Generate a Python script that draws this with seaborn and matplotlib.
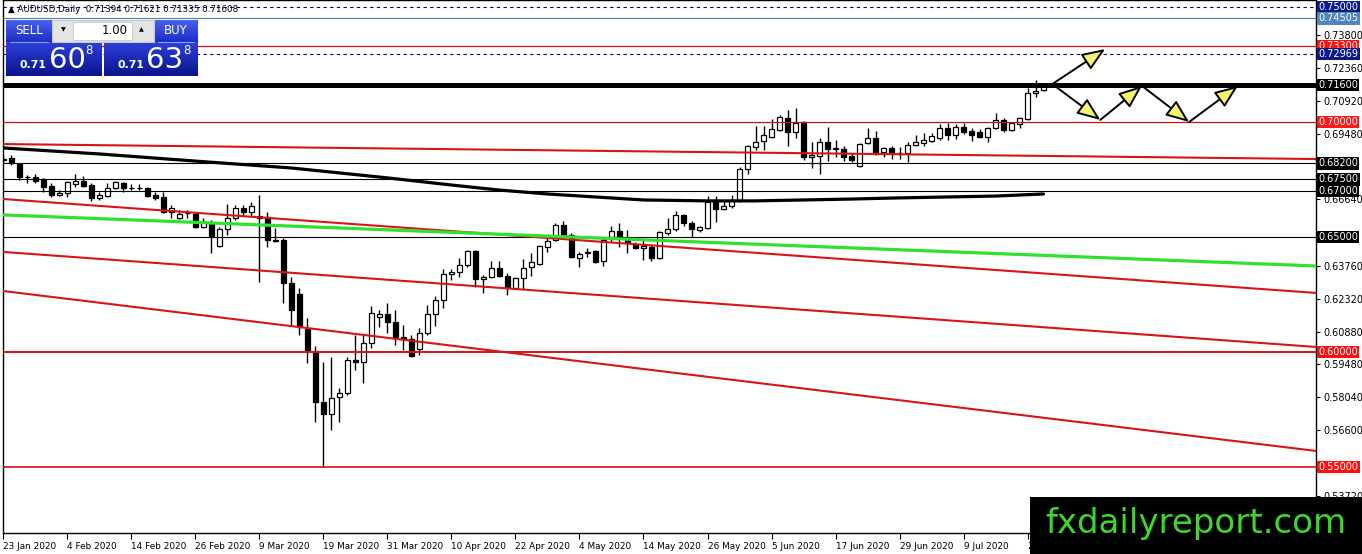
"""AUDUSD daily chart (MT4 style) redrawn with seaborn / matplotlib"""
import matplotlib
matplotlib.use("Agg")
import matplotlib.pyplot as plt
import matplotlib.patches as mpatches
from matplotlib.colors import LinearSegmentedColormap
from matplotlib.ticker import FormatStrFormatter
import seaborn as sns
import numpy as np
import pandas as pd

# daily candles, one per weekday starting 23 Jan 2020
opens = [0.6840, 0.6843, 0.6817, 0.6762, 0.6761, 0.6752, 0.6722, 0.6683, 0.6691, 0.6730,
         0.6744, 0.6726, 0.6670, 0.6678, 0.6713, 0.6735, 0.6715, 0.6714, 0.6713, 0.6683,
         0.6674, 0.6609, 0.6583, 0.6605, 0.6600, 0.6544, 0.6561, 0.6461, 0.6535, 0.6583,
         0.6626, 0.6609, 0.6592, 0.6587, 0.6489, 0.6487, 0.6300, 0.6252, 0.6100, 0.6004,
         0.5783, 0.5730, 0.5804, 0.5822, 0.5965, 0.5957, 0.6039, 0.6152, 0.6165, 0.6130,
         0.6065, 0.6057, 0.6013, 0.6083, 0.6165, 0.6226, 0.6339, 0.6348, 0.6378, 0.6439,
         0.6317, 0.6326, 0.6365, 0.6330, 0.6278, 0.6322, 0.6370, 0.6383, 0.6457, 0.6487,
         0.6552, 0.6509, 0.6409, 0.6435, 0.6439, 0.6396, 0.6500, 0.6526, 0.6487, 0.6465,
         0.6452, 0.6457, 0.6409, 0.6517, 0.6535, 0.6596, 0.6561, 0.6530, 0.6539, 0.6652,
         0.6622, 0.6635, 0.6661, 0.6796, 0.6891, 0.6917, 0.6935, 0.6965, 0.7017, 0.6957,
         0.7000, 0.6848, 0.6852, 0.6913, 0.6886, 0.6883, 0.6852, 0.6809, 0.6909, 0.6930,
         0.6870, 0.6887, 0.6867, 0.6865, 0.6900, 0.6909, 0.6917, 0.6930, 0.6974, 0.6943,
         0.6978, 0.6961, 0.6957, 0.6935, 0.6974, 0.7009, 0.6965, 0.6991, 0.7013, 0.7126,
         0.71394]
highs = [0.6850, 0.6856, 0.6822, 0.6770, 0.6774, 0.6757, 0.6735, 0.6704, 0.6743, 0.6774,
         0.6765, 0.6735, 0.6696, 0.6735, 0.6744, 0.6739, 0.6730, 0.6730, 0.6717, 0.6696,
         0.6696, 0.6639, 0.6617, 0.6617, 0.6609, 0.6583, 0.6574, 0.6544, 0.6644, 0.6639,
         0.6639, 0.6652, 0.6683, 0.6609, 0.6539, 0.6496, 0.6326, 0.6278, 0.6148, 0.6026,
         0.5957, 0.5978, 0.5843, 0.5978, 0.6074, 0.6074, 0.6200, 0.6183, 0.6213, 0.6183,
         0.6117, 0.6074, 0.6104, 0.6204, 0.6243, 0.6361, 0.6361, 0.6409, 0.6443, 0.6443,
         0.6335, 0.6396, 0.6396, 0.6343, 0.6326, 0.6404, 0.6430, 0.6465, 0.6500, 0.6561,
         0.6570, 0.6517, 0.6435, 0.6452, 0.6443, 0.6500, 0.6548, 0.6561, 0.6530, 0.6478,
         0.6487, 0.6470, 0.6526, 0.6583, 0.6613, 0.6600, 0.6570, 0.6548, 0.6678, 0.6678,
         0.6661, 0.6683, 0.6804, 0.6900, 0.6983, 0.6983, 0.7013, 0.7030, 0.7052, 0.7061,
         0.7004, 0.6913, 0.6930, 0.6978, 0.6922, 0.6896, 0.6861, 0.6909, 0.6974, 0.6961,
         0.6891, 0.6896, 0.6891, 0.6913, 0.6943, 0.6952, 0.6952, 0.6991, 0.6996, 0.6991,
         0.6996, 0.6974, 0.6970, 0.6978, 0.7039, 0.7017, 0.7000, 0.7022, 0.7148, 0.7183,
         0.71621]
lows = [0.6828, 0.6813, 0.6748, 0.6735, 0.6735, 0.6696, 0.6674, 0.6678, 0.6674, 0.6717,
        0.6717, 0.6657, 0.6661, 0.6674, 0.6709, 0.6696, 0.6704, 0.6704, 0.6674, 0.6661,
        0.6604, 0.6583, 0.6578, 0.6583, 0.6539, 0.6539, 0.6430, 0.6457, 0.6509, 0.6574,
        0.6596, 0.6587, 0.6304, 0.6457, 0.6478, 0.6213, 0.6117, 0.6074, 0.5952, 0.5696,
        0.5500, 0.5661, 0.5696, 0.5813, 0.5922, 0.5865, 0.6017, 0.6109, 0.6083, 0.6030,
        0.6009, 0.5978, 0.5987, 0.6074, 0.6113, 0.6191, 0.6313, 0.6326, 0.6370, 0.6283,
        0.6257, 0.6322, 0.6326, 0.6248, 0.6274, 0.6274, 0.6330, 0.6378, 0.6435, 0.6483,
        0.6496, 0.6409, 0.6370, 0.6413, 0.6387, 0.6374, 0.6478, 0.6457, 0.6430, 0.6448,
        0.6400, 0.6396, 0.6404, 0.6509, 0.6526, 0.6548, 0.6500, 0.6522, 0.6535, 0.6565,
        0.6617, 0.6626, 0.6652, 0.6774, 0.6878, 0.6878, 0.6930, 0.6961, 0.6896, 0.6930,
        0.6835, 0.6800, 0.6774, 0.6830, 0.6848, 0.6830, 0.6826, 0.6804, 0.6904, 0.6857,
        0.6848, 0.6839, 0.6839, 0.6826, 0.6896, 0.6896, 0.6913, 0.6922, 0.6922, 0.6926,
        0.6948, 0.6917, 0.6930, 0.6913, 0.6970, 0.6957, 0.6961, 0.6974, 0.7009, 0.7109,
        0.71335]
closes = [0.6833, 0.6822, 0.6761, 0.6760, 0.6744, 0.6717, 0.6683, 0.6691, 0.6739, 0.6744,
          0.6722, 0.6670, 0.6683, 0.6713, 0.6739, 0.6713, 0.6712, 0.6711, 0.6678, 0.6670,
          0.6609, 0.6626, 0.6600, 0.6603, 0.6544, 0.6565, 0.6504, 0.6535, 0.6583, 0.6626,
          0.6609, 0.6635, 0.6583, 0.6487, 0.6484, 0.6300, 0.6183, 0.6109, 0.6004, 0.5783,
          0.5730, 0.5800, 0.5822, 0.5965, 0.5957, 0.6039, 0.6170, 0.6165, 0.6130, 0.6065,
          0.6057, 0.5983, 0.6083, 0.6165, 0.6226, 0.6339, 0.6348, 0.6378, 0.6439, 0.6317,
          0.6326, 0.6365, 0.6330, 0.6283, 0.6322, 0.6365, 0.6391, 0.6461, 0.6483, 0.6552,
          0.6500, 0.6413, 0.6426, 0.6432, 0.6391, 0.6487, 0.6526, 0.6496, 0.6474, 0.6452,
          0.6461, 0.6409, 0.6522, 0.6535, 0.6596, 0.6561, 0.6535, 0.6543, 0.6652, 0.6622,
          0.6635, 0.6661, 0.6796, 0.6896, 0.6913, 0.6943, 0.6970, 0.7022, 0.6957, 0.6996,
          0.6848, 0.6857, 0.6913, 0.6883, 0.6884, 0.6848, 0.6835, 0.6904, 0.6930, 0.6861,
          0.6887, 0.6865, 0.6864, 0.6900, 0.6913, 0.6922, 0.6939, 0.6974, 0.6943, 0.6978,
          0.6957, 0.6943, 0.6935, 0.6974, 0.7009, 0.6965, 0.6996, 0.7017, 0.7126, 0.7135,
          0.71608]

# slow moving average (black curve), sampled at bar numbers
ma_bars = [0, 12, 24, 36, 48, 56, 62, 68, 74, 80, 88, 94, 100, 106, 112, 118, 124, 130]
ma_values = [0.6887, 0.6861, 0.6830, 0.6800, 0.6757, 0.6726, 0.6704, 0.6687, 0.6674, 0.6661,
             0.6657, 0.6657, 0.6661, 0.6665, 0.6670, 0.6674, 0.6678, 0.6687]

# trend lines: (bar, price) at both ends
red_trends = [((0, 0.6904), (164, 0.6839)),
              ((0, 0.6665), (164, 0.6257)),
              ((0, 0.6435), (164, 0.6022)),
              ((0, 0.6265), (164, 0.5570))]
green_trend = ((0, 0.6596), (164, 0.6374))

# horizontal levels: price, colour, width, style, label box colour
levels = [(0.75000, "#000080", 0.8, (0, (3, 3)), "#0a1a8c"),
          (0.74505, "#4682b4", 0.8, "-", "#4f86c0"),
          (0.73300, "#d01010", 0.9, "-", "#ff1010"),
          (0.72969, "#000080", 0.8, (0, (3, 3)), "#0a1a8c"),
          (0.71600, "black", 3.6, "-", "black"),
          (0.70000, "#d01010", 0.9, "-", "#ff1818"),
          (0.68200, "black", 0.8, "-", "black"),
          (0.67500, "black", 0.8, "-", "black"),
          (0.67000, "black", 0.8, "-", "black"),
          (0.65000, "black", 0.8, "-", "black"),
          (0.60000, "#e01010", 1.4, "-", "#ff1010"),
          (0.55000, "#d01010", 1.2, "-", "#ff1010")]

price_ticks = [0.73800, 0.72360, 0.70920, 0.69480, 0.66640, 0.63760,
               0.62320, 0.60880, 0.59480, 0.58040, 0.56600, 0.53720]

# projected path arrows (bar, price)
arrow_from = [(131.1, 0.7165), (131.1, 0.7165), (137.1, 0.7009), (142.3, 0.7157), (148.2, 0.7000)]
arrow_to = [(137.7, 0.7317), (137.1, 0.7009), (142.3, 0.7157), (148.2, 0.7000), (154.3, 0.7157)]

W, H = 1362, 554
sns.set_theme(style="white")
plt.rcParams["font.family"] = ["DejaVu Sans"]

fig = plt.figure(figsize=(W / 100, H / 100), dpi=100)
fig.patch.set_facecolor("white")
ax = fig.add_axes([3 / W, 21 / H, 1313 / W, 533 / H])
ax.set_facecolor("white")

# candles
o, hi, lo, c = (np.array(v) for v in (opens, highs, lows, closes))
x = np.arange(len(o))
up = c >= o
body_lo = np.minimum(o, c)
body_h = np.maximum(np.abs(c - o), 0.00012)
ax.vlines(x, lo, hi, color="black", lw=1.0, zorder=3)
ax.bar(x[up], body_h[up], bottom=body_lo[up], width=0.62, color="white",
       edgecolor="black", lw=0.9, zorder=4)
ax.bar(x[~up], body_h[~up], bottom=body_lo[~up], width=0.62, color="black",
       edgecolor="black", lw=0.9, zorder=4)

# horizontal levels
for price, col, lw, ls, _ in levels:
    ax.axhline(price, color=col, lw=lw, ls=ls, zorder=5)

# trend lines
for (p0, p1) in red_trends:
    ax.axline(p0, p1, color="#d81414", lw=1.5, zorder=5)
ax.axline(green_trend[0], green_trend[1], color="#2ee32e", lw=2.3, zorder=5)

# moving average
sns.lineplot(x=ma_bars, y=ma_values, color="black", lw=2.3, ax=ax, zorder=6)

# arrows
for start, end in zip(arrow_from, arrow_to):
    ax.annotate("", xy=end, xytext=start, zorder=7,
                arrowprops=dict(arrowstyle="-|>,head_length=0.95,head_width=0.38",
                                mutation_scale=15, fc="#f6f46e", ec="black", lw=1.4,
                                shrinkA=0, shrinkB=0))

ax.set_xlim(-0.06, 164.06)
ax.set_ylim(0.75304 - 533 / 2300, 0.75304)

# axes, ticks
for sp in ax.spines.values():
    sp.set_color("black")
    sp.set_linewidth(1.0)
ax.yaxis.tick_right()
ax.set_yticks(price_ticks)
ax.yaxis.set_major_formatter(FormatStrFormatter("%.5f"))
dates = pd.bdate_range("2020-01-23", periods=len(closes))
tick_idx = np.arange(0, len(closes), 8)
ax.set_xticks(tick_idx)
ax.set_xticklabels([f"{d.day} {d.strftime('%b %Y')}" for d in dates[tick_idx]])
for lab in ax.get_xticklabels():
    lab.set_horizontalalignment("left")
ax.tick_params(axis="x", bottom=True, direction="out", length=4, width=0.8,
               labelsize=6.4, pad=2.5, colors="black")
ax.tick_params(axis="y", right=True, left=False, labelright=True, labelleft=False,
               direction="out", length=3, width=0.8, labelsize=7, pad=2, colors="black")
ax.set_xlabel("")
ax.set_ylabel("")
ax.grid(False)

# price label boxes on the right scale
for price, _, _, _, box in levels:
    ax.text(1.0018, price, f"{price:.5f}", transform=ax.get_yaxis_transform(),
            ha="left", va="center", fontsize=7, color="white", clip_on=False, zorder=10,
            bbox=dict(boxstyle="square,pad=0.12", fc=box, ec="none"))

# overlay in pixel coordinates for panel, header and watermark
ov = fig.add_axes([0, 0, 1, 1], zorder=20)
ov.axis("off")


def grad_box(x0, y0, x1, y1, top, bottom):
    cmap = LinearSegmentedColormap.from_list("g", [top, bottom])
    ov.imshow(np.linspace(0, 1, 64).reshape(-1, 1), cmap=cmap, aspect="auto",
              extent=(x0, x1, y1, y0), interpolation="bilinear", zorder=1)


def box(x0, y0, x1, y1, fc, ec="none", lw=0.0, z=2):
    ov.add_patch(mpatches.Rectangle((x0, y0), x1 - x0, y1 - y0, fc=fc, ec=ec, lw=lw, zorder=z))


header = f"\u25b2 AUDUSD,Daily  {o[-1]:.5f} {hi[-1]:.5f} {lo[-1]:.5f} {c[-1]:.5f}"
ov.text(8, 10, header, fontsize=6.3, color="black", va="center", ha="left", zorder=5)

# one-click trading panel
grad_box(6, 20, 52, 42, "#4a60ee", "#1c2ec4")
grad_box(154, 20, 198, 42, "#4a60ee", "#1c2ec4")
grad_box(6, 42, 102, 76, "#2c40dc", "#0a148c")
grad_box(104, 42, 198, 76, "#2c40dc", "#0a148c")
ov.plot([10, 48], [42, 42], color="#8d9cff", lw=0.8, zorder=3)
ov.plot([158, 194], [42, 42], color="#8d9cff", lw=0.8, zorder=3)
box(52, 20, 154, 42, "#e4e4e4", ec="#c8c8c8", lw=0.8)
box(73, 22, 132, 40, "white", ec="#c8c8c8", lw=0.6, z=3)
ov.text(63, 30, "\u25bc", fontsize=4.5, color="black", ha="center", va="center", zorder=4)
ov.text(141, 30, "\u25b2", fontsize=4.5, color="black", ha="center", va="center", zorder=4)
ov.text(128, 30, "1.00", fontsize=8.5, color="black", ha="right", va="center", zorder=4)
ov.text(29, 31, "SELL", fontsize=8.5, color="white", ha="center", va="center", zorder=4)
ov.text(176, 31, "BUY", fontsize=8.5, color="white", ha="center", va="center", zorder=4)

bid = f"{c[-1]:.5f}"
ask = f"{c[-1] + 0.00030:.5f}"
for quote, x0 in ((bid, 20), (ask, 118)):
    ov.text(x0, 65, quote[:4], fontsize=7.8, fontweight="bold", color="white",
            ha="left", va="center", zorder=4)
    ov.text(x0 + 47, 60, quote[4:6], fontsize=21, color="white",
            ha="center", va="center", zorder=4)
    ov.text(x0 + 69, 51, quote[6], fontsize=8.5, color="white",
            ha="center", va="center", zorder=4)

# watermark
box(1030, 497, 1362, 554, "black", z=2)
ov.text(1196, 524, "fxdailyreport.com", fontsize=24.5, color="#3fd62a",
        ha="center", va="center", zorder=4)

ov.set_xlim(0, W)
ov.set_ylim(H, 0)

fig.savefig("out.png", dpi=100, facecolor="white")
